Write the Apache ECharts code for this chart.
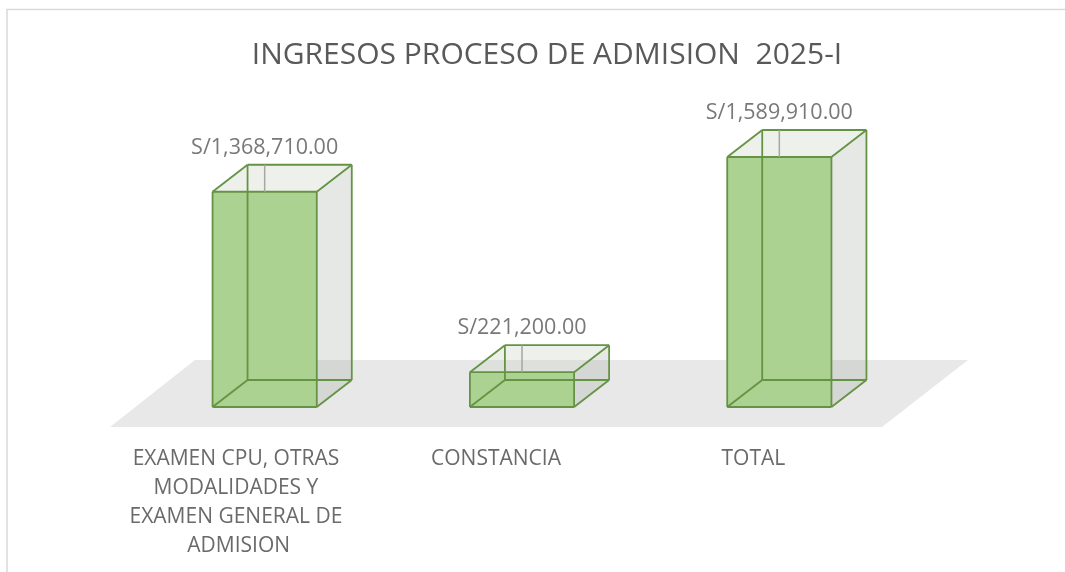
<!DOCTYPE html>
<html>
<head>
<meta charset="utf-8">
<script src="https://cdn.jsdelivr.net/npm/echarts@6/dist/echarts.min.js"></script>
<style>
  html, body { margin: 0; padding: 0; background: #fff; }
  #chart { width: 1065px; height: 572px; }
</style>
</head>
<body>
<div id="chart"></div>
<script>
var chartTitle = 'INGRESOS PROCESO DE ADMISION  2025-I';
var categories = ['EXAMEN CPU, OTRAS MODALIDADES Y EXAMEN GENERAL DE ADMISION', 'CONSTANCIA', 'TOTAL'];
var ingresos = [1368710, 221200, 1589910];

var edgeColor = '#649344';
var depthX = 35, depthY = -27;   // 3d offset of the back face

function formatSoles(v) {
    return 'S/' + v.toLocaleString('en-US', { minimumFractionDigits: 2, maximumFractionDigits: 2 });
}

var myChart = echarts.init(document.getElementById('chart'));

function renderFloor(params, api) {
    var cs = params.coordSys;
    var y0 = api.coord([0, 0])[1];
    var left = cs.x, right = cs.x + cs.width;
    return {
        type: 'polygon',
        shape: { points: [[left - 26, y0 + 20], [left + 59, y0 - 47], [right + 60, y0 - 47], [right - 26, y0 + 20]] },
        style: { fill: '#e8e8e8' },
        silent: true
    };
}

function renderBox(params, api) {
    var idx = api.value(0);
    var val = api.value(1);
    var top = api.coord([idx, val]);
    var base = api.coord([idx, 0]);
    var w = api.size([1, 0])[0] * 0.405;
    var x1 = top[0] - w / 2, x2 = top[0] + w / 2;
    var yb = base[1], yt = top[1];
    var dx = depthX, dy = depthY;
    // 8 corners
    var fbl = [x1, yb], fbr = [x2, yb], ftl = [x1, yt], ftr = [x2, yt];
    var bbl = [x1 + dx, yb + dy], bbr = [x2 + dx, yb + dy], btl = [x1 + dx, yt + dy], btr = [x2 + dx, yt + dy];
    var edges = [
        [bbl, bbr], [bbr, btr], [btr, btl], [btl, bbl],
        [fbl, bbl], [ftl, btl], [fbr, bbr], [ftr, btr],
        [fbl, fbr], [fbr, ftr], [ftr, ftl], [ftl, fbl]
    ];
    var children = [
        { type: 'polygon', shape: { points: [fbr, bbr, btr, ftr] }, style: { fill: 'rgba(160,166,154,0.26)' } },
        { type: 'polygon', shape: { points: [ftl, ftr, btr, btl] }, style: { fill: 'rgba(200,210,190,0.3)' } },
        { type: 'polygon', shape: { points: [fbl, fbr, ftr, ftl] }, style: { fill: 'rgba(169,209,142,0.97)' } }
    ];
    edges.forEach(function (e) {
        children.push({
            type: 'line',
            shape: { x1: e[0][0], y1: e[0][1], x2: e[1][0], y2: e[1][1] },
            style: { stroke: edgeColor, lineWidth: 1.8 }
        });
    });
    // leader line + value label
    children.push({
        type: 'line',
        shape: { x1: top[0], y1: yt - 27, x2: top[0], y2: yt },
        style: { stroke: '#a6a6a6', lineWidth: 1.5 }
    });
    children.push({
        type: 'text',
        x: top[0], y: yt - 44,
        style: {
            text: formatSoles(val),
            fill: '#787878',
            font: '21.5px "Open Sans"',
            align: 'center',
            verticalAlign: 'middle'
        }
    });
    return { type: 'group', children: children };
}

var option = {
    backgroundColor: '#fff',
    animation: false,
    title: {
        text: chartTitle,
        left: 542,
        textAlign: 'center',
        top: 35,
        textStyle: { color: '#595959', fontSize: 30, fontWeight: 'normal', fontFamily: 'Open Sans' }
    },
    graphic: [{
        type: 'rect',
        shape: { x: 7, y: 9.5, width: 1200, height: 700 },
        style: { fill: 'none', stroke: '#d9d9d9', lineWidth: 1.5 },
        silent: true
    }],
    grid: { left: 136, right: 157, top: 92.5, bottom: 165 },
    xAxis: {
        type: 'category',
        data: categories,
        axisLine: { show: false },
        axisTick: { show: false },
        axisLabel: {
            margin: 38,
            color: '#6a6a6a',
            fontSize: 21,
            lineHeight: 29,
            fontFamily: 'Open Sans',
            width: 228,
            overflow: 'break',
            padding: [0, 52, 0, 0],
            interval: 0
        }
    },
    yAxis: {
        type: 'value',
        show: false,
        min: 0,
        max: 2000000
    },
    series: [{
        type: 'custom',
        renderItem: renderFloor,
        data: [[0, 0]],
        z: 1,
        silent: true
    }, {
        type: 'custom',
        renderItem: renderBox,
        data: ingresos.map(function (v, i) { return [i, v]; }),
        z: 2
    }]
};
myChart.setOption(option);
</script>
</body>
</html>
